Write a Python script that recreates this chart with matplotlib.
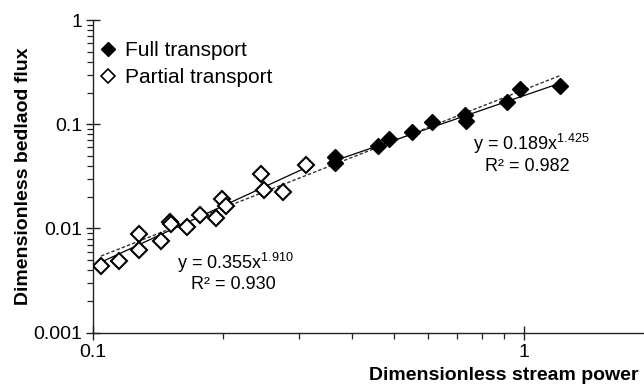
import numpy as np
import matplotlib
matplotlib.use("Agg")
import matplotlib.pyplot as plt
from matplotlib.lines import Line2D
from matplotlib.ticker import LogLocator, FixedLocator, NullFormatter

plt.rcParams['font.family'] = ['Liberation Sans', 'DejaVu Sans']
plt.rcParams['mathtext.fontset'] = 'custom'
plt.rcParams['mathtext.rm'] = 'Liberation Sans'

# Data
partial_x = [0.1044, 0.1151, 0.1281, 0.1281, 0.1438, 0.1509, 0.1517, 0.1650,
             0.1771, 0.1929, 0.1995, 0.2034, 0.2449, 0.2490, 0.2755, 0.3121]
partial_y = [0.00436, 0.00491, 0.00885, 0.00621, 0.00763, 0.01162, 0.01097, 0.01027,
             0.01333, 0.01253, 0.0192, 0.01652, 0.0336, 0.0236, 0.0223, 0.0407]
full_x = [0.3643, 0.3643, 0.4592, 0.4870, 0.5489, 0.6107, 0.7297, 0.7336,
          0.912, 0.979, 1.212]
full_y = [0.0489, 0.0423, 0.0620, 0.0719, 0.0840, 0.1062, 0.1231, 0.1085,
          0.1652, 0.2174, 0.2338]

partial_fit = (0.355, 1.910, 0.930)
full_fit = (0.189, 1.425, 0.982)

series_labels = ["Full transport", "Partial transport"]
x_label = "Dimensionless stream power"
y_label = "Dimensionless bedlaod flux"
x_ticks = [0.1, 1]
x_ticklabels = ["0.1", "1"]
y_ticks = [0.001, 0.01, 0.1, 1]
y_ticklabels = ["0.001", "0.01", "0.1", "1"]

fig = plt.figure(figsize=(6.44, 3.88), dpi=100)
ax = fig.add_axes([93/644, 55.5/388, 1 - 93/644, (332.5-20.3)/388])
ax.set_xscale('log')
ax.set_yscale('log')
ax.set_xlim(0.1, 10**(-1 + 551/431))
ax.set_ylim(0.001, 1)

# Fit lines
def power_line(xs, a, b):
    xs = np.array([min(xs), max(xs)])
    return xs, a * xs ** b

lx, ly = power_line(partial_x, partial_fit[0], partial_fit[1])
ax.plot(lx, ly, color='black', lw=0.9, zorder=2)
lx, ly = power_line(full_x, full_fit[0], full_fit[1])
ax.plot(lx, ly, color='black', lw=0.9, zorder=2)

all_x = np.array(partial_x + full_x)
all_y = np.array(partial_y + full_y)
b_all, loga_all = np.polyfit(np.log10(all_x), np.log10(all_y), 1)
xs = np.array([all_x.min(), all_x.max()])
ax.plot(xs, 10**loga_all * xs**b_all, color='#333333', lw=1.0, ls=(0, (2.5, 1.5)), zorder=2)

ax.plot(partial_x, partial_y, 'D', ms=8.5, mfc='white', mec='black', mew=1.5, ls='none', zorder=3)
ax.plot(full_x, full_y, 'D', ms=8.5, mfc='black', mec='black', mew=1.0, ls='none', zorder=4)

# Spines
for s in ['top', 'right']:
    ax.spines[s].set_visible(False)
for s in ['left', 'bottom']:
    ax.spines[s].set_color('#222222')
    ax.spines[s].set_linewidth(1.0)

ax.xaxis.set_major_locator(FixedLocator(x_ticks))
ax.set_xticklabels(x_ticklabels)
ax.yaxis.set_major_locator(FixedLocator(y_ticks))
ax.set_yticklabels(y_ticklabels)
ax.xaxis.set_minor_locator(LogLocator(base=10, subs=np.arange(2, 10)))
ax.yaxis.set_minor_locator(LogLocator(base=10, subs=np.arange(2, 10)))
ax.xaxis.set_minor_formatter(NullFormatter())
ax.yaxis.set_minor_formatter(NullFormatter())
ax.tick_params(which='major', direction='inout', length=10, width=1.0, color='#222222',
               labelsize=14, pad=3)
ax.tick_params(which='minor', direction='out', length=4, width=0.9, color='#222222')

ax.set_xlabel(x_label, fontsize=14, fontweight='bold')
ax.xaxis.set_label_coords(0.745, -0.11)
ax.set_ylabel(y_label, fontsize=14, fontweight='bold')
ax.yaxis.set_label_coords(-0.11, 0.5)

# Equations
eq_fs = 13
ax.text(0.214, 0.0047, r'y = %.3fx$^{\mathregular{%.3f}}$' % (partial_fit[0], partial_fit[1]),
        fontsize=eq_fs, ha='center', va='center')
ax.text(0.212, 0.0029, 'R² = %.3f' % partial_fit[2], fontsize=eq_fs, ha='center', va='center')
ax.text(1.04, 0.0655, r'y = %.3fx$^{\mathregular{%.3f}}$' % (full_fit[0], full_fit[1]),
        fontsize=eq_fs, ha='center', va='center')
ax.text(1.02, 0.0395, 'R² = %.3f' % full_fit[2], fontsize=eq_fs, ha='center', va='center')

handles = [Line2D([], [], marker='D', ls='none', ms=7, mfc='black', mec='black'),
           Line2D([], [], marker='D', ls='none', ms=7, mfc='white', mec='black', mew=1.2)]
ax.legend(handles, series_labels, loc='upper left', bbox_to_anchor=(-0.022, 0.98),
          frameon=False, fontsize=15, handletextpad=0.2, handlelength=1.2,
          labelspacing=0.4, borderaxespad=0.3)

fig.savefig('out.png', dpi=100)
